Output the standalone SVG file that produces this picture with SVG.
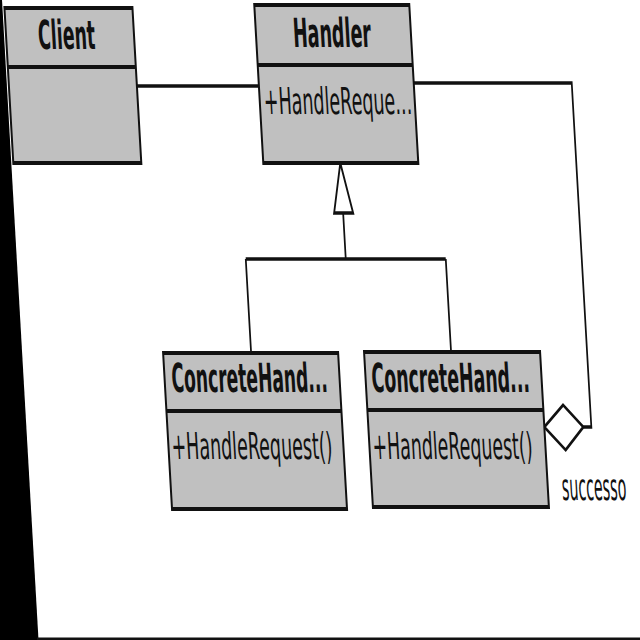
<svg xmlns="http://www.w3.org/2000/svg" width="640" height="640" viewBox="0 0 640 640">
<style>
.box{fill:#c0c0c0;stroke:#111;stroke-width:4}
.div{stroke:#111;stroke-width:4}
.title{font-family:"DejaVu Sans","Liberation Sans",sans-serif;font-weight:bold;font-size:40px;fill:#111;text-anchor:middle}
.attr{font-family:"DejaVu Sans","Liberation Sans",sans-serif;font-size:37px;fill:#111}
.conn{fill:none;stroke:#111;stroke-width:3.5}
.head{fill:#fff;stroke:#111;stroke-width:3.5}
</style>
<rect x="0" y="0" width="640" height="640" fill="#fff"/>
<polygon points="0,0 2,0 38.5,640 0,640" fill="#000"/>
<rect x="37" y="637.5" width="603" height="2.5" fill="#111"/>
<g transform="matrix(0.5 0 0.057 1 0 0)">
  <g id="connectors">
    <path class="conn" d="M264,86 H508"/>
    <path class="conn" d="M818,83 H1134 V427 H1118"/>
    <path class="head" d="M1040,427 L1080,405 L1118,427 L1080,450 Z"/>
    <path class="head" d="M662,163 L682,213 L644,213 Z"/>
    <path class="conn" d="M662,213 V259 M462,259 H862 M462,259 V353 M862,259 V352"/>
  </g>
  <g id="client">
    <rect class="box" x="8" y="8" width="256" height="155"/>
    <line class="div" x1="8" y1="67" x2="264" y2="67"/>
    <text class="title" x="129" y="49" textLength="114" lengthAdjust="spacingAndGlyphs">Client</text>
  </g>
  <g id="handler">
    <rect class="box" x="508" y="5" width="310" height="158"/>
    <line class="div" x1="508" y1="65" x2="818" y2="65"/>
    <text class="title" x="660" y="47" textLength="156" lengthAdjust="spacingAndGlyphs">Handler</text>
    <text class="attr" x="516" y="114" textLength="296" lengthAdjust="spacingAndGlyphs">+HandleReque...</text>
  </g>
  <g id="concrete1">
    <rect class="box" x="286" y="353" width="350" height="156"/>
    <line class="div" x1="286" y1="411" x2="636" y2="411"/>
    <text class="title" x="456" y="392" textLength="312" lengthAdjust="spacingAndGlyphs">ConcreteHand...</text>
    <text class="attr" x="292" y="459" textLength="322" lengthAdjust="spacingAndGlyphs">+HandleRequest()</text>
  </g>
  <g id="concrete2">
    <rect class="box" x="688" y="352" width="352" height="155"/>
    <line class="div" x1="688" y1="410" x2="1040" y2="410"/>
    <text class="title" x="858" y="392" textLength="316" lengthAdjust="spacingAndGlyphs">ConcreteHand...</text>
    <text class="attr" x="694" y="459" textLength="320" lengthAdjust="spacingAndGlyphs">+HandleRequest()</text>
  </g>
  <g id="successor-label">
    <text class="attr" transform="translate(1068,500) scale(0.77,1)" x="0" y="0" font-size="42">successo</text>
  </g>
</g>
</svg>
